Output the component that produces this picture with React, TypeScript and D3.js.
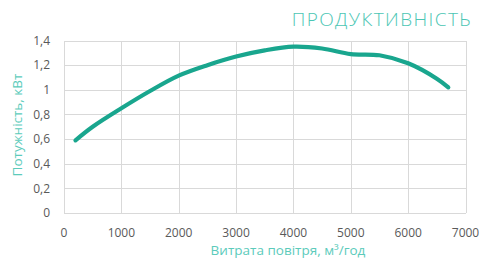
import React, { useEffect, useRef } from 'react';
import * as d3 from 'd3';

// air flow, m3/h
const flow = [200, 500, 1000, 1500, 2000, 2500, 3000, 3500, 4000, 4500, 5000, 5500, 6000, 6500, 6700];
// power, kW
const power = [0.59, 0.70, 0.85, 0.99, 1.115, 1.20, 1.27, 1.32, 1.35, 1.335, 1.29, 1.28, 1.215, 1.09, 1.02];

const xTicks = [0, 1000, 2000, 3000, 4000, 5000, 6000, 7000];
const yTicks = [0, 0.2, 0.4, 0.6, 0.8, 1, 1.2, 1.4];

const App: React.FC = () => {
  const svgRef = useRef<SVGSVGElement>(null);

  useEffect(() => {
    if (!svgRef.current) return;
    const svg = d3.select(svgRef.current);
    svg.selectAll('*').remove();

    const W = 481, H = 259;
    const x = d3.scaleLinear().domain([0, 7000]).range([64, 465.5]);
    const y = d3.scaleLinear().domain([0, 1.4]).range([213, 40.5]);
    const font = "'Open Sans', 'Noto Sans', sans-serif";

    svg.attr('width', W).attr('height', H);

    // grid
    const grid = svg.append('g').attr('stroke', '#d9d9d9').attr('stroke-width', 1).attr('shape-rendering', 'crispEdges');
    grid.selectAll('line.h').data(yTicks).enter().append('line')
      .attr('x1', x(0)).attr('x2', x(7000))
      .attr('y1', d => Math.round(y(d)) + 0.5).attr('y2', d => Math.round(y(d)) + 0.5);
    grid.selectAll('line.v').data(xTicks).enter().append('line')
      .attr('y1', y(0)).attr('y2', y(1.4))
      .attr('x1', d => Math.round(x(d)) + 0.5).attr('x2', d => Math.round(x(d)) + 0.5);

    // tick labels
    svg.append('g').selectAll('text').data(yTicks).enter().append('text')
      .attr('x', 50).attr('y', d => y(d)).attr('dy', '0.35em')
      .attr('text-anchor', 'end').attr('fill', '#595959')
      .attr('font-family', font).attr('font-size', 12)
      .text(d => String(d).replace('.', ','));

    svg.append('g').selectAll('text').data(xTicks).enter().append('text')
      .attr('x', d => x(d)).attr('y', 233).attr('dy', '0.35em')
      .attr('text-anchor', 'middle').attr('fill', '#595959')
      .attr('font-family', font).attr('font-size', 12)
      .text(d => String(d));

    // line
    const pts = flow.map((f, i) => [f, power[i]] as [number, number]);
    const line = d3.line<[number, number]>()
      .x(d => x(d[0])).y(d => y(d[1]))
      .curve(d3.curveCatmullRom.alpha(0.5));
    svg.append('path').datum(pts)
      .attr('d', line).attr('fill', 'none')
      .attr('stroke', '#19a68e').attr('stroke-width', 4.2)
      .attr('stroke-linecap', 'round').attr('stroke-linejoin', 'round');

    // titles
    svg.append('text')
      .attr('x', 472).attr('y', 26).attr('text-anchor', 'end')
      .attr('fill', '#4cc6b4').attr('font-family', font).attr('font-weight', 300)
      .attr('font-size', 19).attr('letter-spacing', 1.4)
      .text('ПРОДУКТИВНІСТЬ');

    svg.append('text')
      .attr('transform', `translate(22,125) rotate(-90)`)
      .attr('text-anchor', 'middle')
      .attr('fill', '#5ccbbb').attr('font-family', font).attr('font-size', 13.5)
      .text('Потужність, кВт');

    svg.append('text')
      .attr('x', 288).attr('y', 255).attr('text-anchor', 'middle')
      .attr('fill', '#5ccbbb').attr('font-family', font).attr('font-size', 13.5)
      .text('Витрата повітря, м³/год');
  }, []);

  return (
    <div style={{ position: 'absolute', left: 0, top: 0 }}>
      <svg ref={svgRef} style={{ display: 'block' }}></svg>
    </div>
  );
};

export default App;
